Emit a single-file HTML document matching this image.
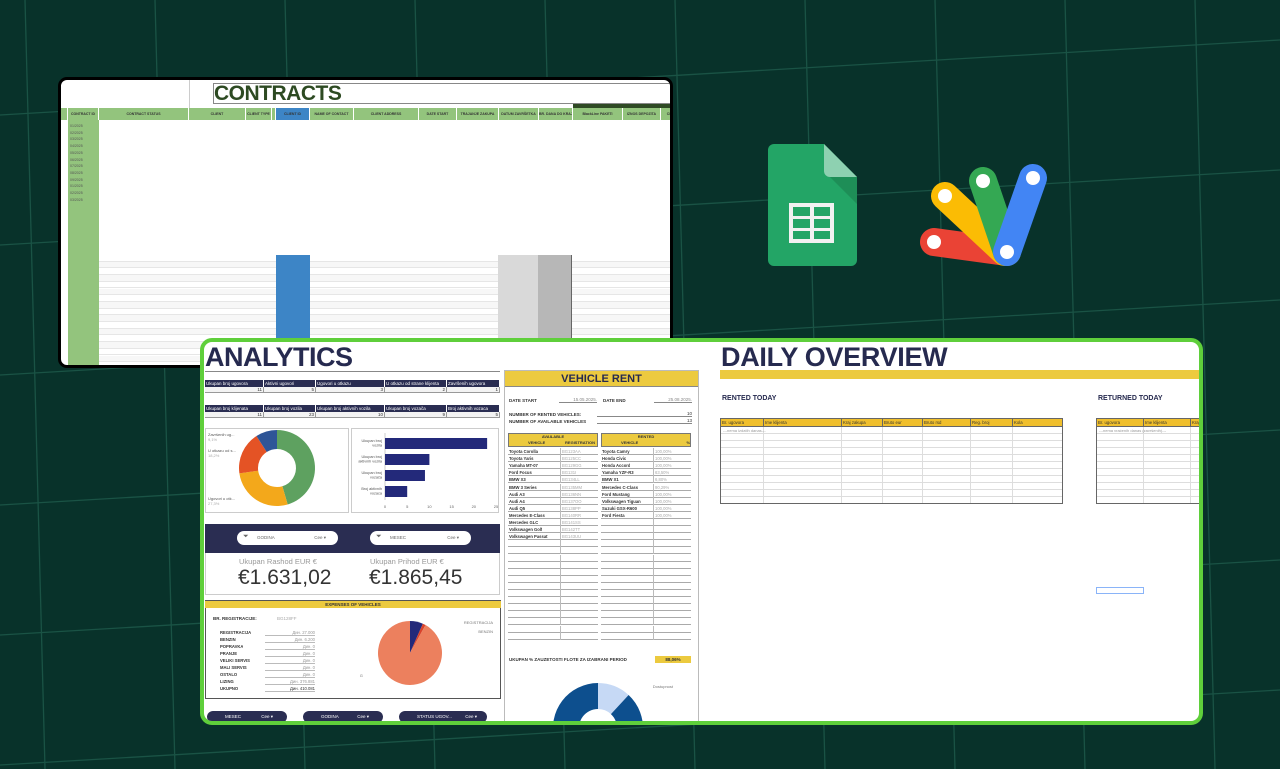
<!DOCTYPE html>
<html style="overflow:hidden"><head><meta charset="utf-8">
<style>
*{box-sizing:border-box;margin:0;padding:0}
html,body{width:1280px;height:769px;overflow:hidden}
body{background:#08322a;font-family:"Liberation Sans",sans-serif;position:relative}
.a{position:absolute}
.t{font-size:4.5px;color:#333;white-space:nowrap;overflow:hidden}
.navy{color:#262a4f}
</style></head><body>
<svg class="a" style="left:0;top:0" width="1280" height="769" id="grid"></svg>

<!-- CONTRACTS window -->
<div class="a" style="left:58px;top:77px;width:615px;height:291px;border:3px solid #000;border-radius:9px;background:#fff;overflow:hidden">
  <div class="a" style="left:128px;top:0;width:1px;height:28px;background:#ccc"></div>
  <div class="a" style="left:152px;top:3px;width:460px;height:21px;border:1px solid #888;border-right:none;font:bold 21px/20px 'Liberation Sans',sans-serif;color:#2d4a22;letter-spacing:-0.5px">CONTRACTS</div>
  <div class="a" style="left:512px;top:24px;width:100px;height:6px;background:#2f4a24"></div>
  <div class="a" id="hdr" style="left:0;top:28px;width:612px;height:12px;background:#93c47d"></div>
  <div class="a" style="left:7px;top:40px;width:31px;height:250px;background:#93c47d"></div>
  <div class="a" id="ids" style="left:9px;top:40px"></div>
  <div class="a" id="rows" style="left:38px;top:175px;width:575px;height:115px;overflow:hidden"></div>
  <div class="a" style="left:215px;top:175px;width:34px;height:115px;background:#3d85c6"></div>
  <div class="a" style="left:437px;top:175px;width:40px;height:115px;background:#d9d9d9"></div>
  <div class="a" style="left:477px;top:175px;width:34px;height:115px;background:#b7b7b7;border-right:1px solid #666"></div>
</div>

<!-- Logos -->
<svg class="a" style="left:760px;top:140px" width="100" height="130">
  <path d="M14 4 H64 L97 37 V120 a6 6 0 0 1 -6 6 H14 a6 6 0 0 1 -6 -6 V10 a6 6 0 0 1 6 -6Z" fill="#23a566"/>
  <path d="M64 4 L97 37 H70 a6 6 0 0 1 -6 -6Z" fill="#8ed1b1"/>
  <path d="M70 37 L97 64 V37Z" fill="#1e8e57"/>
  <rect x="29" y="63" width="45" height="40" fill="#f1f1f1"/>
  <g fill="#23a566"><rect x="33" y="67" width="17" height="9"/><rect x="54" y="67" width="16" height="9"/><rect x="33" y="79" width="17" height="9"/><rect x="54" y="79" width="16" height="9"/><rect x="33" y="91" width="17" height="8"/><rect x="54" y="91" width="16" height="8"/></g>
</svg>
<svg class="a" style="left:915px;top:160px" width="140" height="112">
  <g stroke-linecap="round" stroke-width="28" fill="none">
    <line x1="19" y1="82" x2="92" y2="92" stroke="#ea4335"/>
    <line x1="30" y1="36" x2="90" y2="92" stroke="#fbbc04"/>
    <line x1="68" y1="21" x2="92" y2="92" stroke="#34a853"/>
    <line x1="118" y1="18" x2="92" y2="92" stroke="#4285f4"/>
  </g>
  <g fill="#fff"><circle cx="19" cy="82" r="7"/><circle cx="30" cy="36" r="7"/><circle cx="68" cy="21" r="7"/><circle cx="118" cy="18" r="7"/><circle cx="92" cy="92" r="7"/></g>
</svg>

<!-- ANALYTICS window -->
<div class="a" style="left:200px;top:338px;width:1003px;height:387px;border:4px solid #5fcf3b;border-radius:12px;background:#fff;overflow:hidden">
 <div class="a" style="left:-204px;top:-342px;width:1280px;height:769px">
  <div class="a navy" style="left:205px;top:342px;font:bold 27px/30px 'Liberation Sans',sans-serif;letter-spacing:-0.5px">ANALYTICS</div>
  <div class="a" style="left:205px;top:371px;width:295px;height:1px;background:#888"></div>
  <div class="a" id="kpi"></div>

  <div class="a" style="left:205px;top:428px;width:144px;height:85px;border:1px solid #ccc"></div>
  <svg class="a" id="donut" style="left:205px;top:428px" width="144" height="85"></svg>
  <div class="a" style="left:351px;top:428px;width:148px;height:85px;border:1px solid #ccc"></div>
  <svg class="a" id="bars" style="left:351px;top:428px" width="148" height="85"></svg>

  <div class="a" style="left:205px;top:524px;width:295px;height:29px;background:#2a2d52"></div>
  <div class="a t" style="left:237px;top:531px;width:101px;height:14px;background:#fff;border-radius:7px;padding:4px 0 0 20px;color:#666">GODINA<span style="position:absolute;right:12px">Cee ▾</span><span style="position:absolute;left:6px;top:2px;font-size:7px">⏷</span></div>
  <div class="a t" style="left:370px;top:531px;width:101px;height:14px;background:#fff;border-radius:7px;padding:4px 0 0 20px;color:#666">MESEC<span style="position:absolute;right:12px">Cee ▾</span><span style="position:absolute;left:6px;top:2px;font-size:7px">⏷</span></div>
  <div class="a" style="left:205px;top:553px;width:295px;height:42px;border:1px solid #ccc;border-top:none"></div>
  <div class="a" style="left:239px;top:557px;font-size:7.5px;color:#999">Ukupan Rashod EUR €</div>
  <div class="a" style="left:238px;top:566px;font-size:21px;color:#333">€1.631,02</div>
  <div class="a" style="left:370px;top:557px;font-size:7.5px;color:#999">Ukupan Prihod EUR €</div>
  <div class="a" style="left:369px;top:566px;font-size:21px;color:#333">€1.865,45</div>

  <div class="a" style="left:205px;top:600px;width:296px;height:99px;border:1px solid #555"></div>
  <div class="a t" style="left:205px;top:601px;width:296px;height:7px;background:#ecca3f;text-align:center;font-weight:bold;font-size:4.5px;line-height:7px">EXPENSES OF VEHICLES</div>
  <div class="a t" style="left:213px;top:616px;font-weight:bold">BR. REGISTRACIJE:</div>
  <div class="a t" style="left:277px;top:616px;color:#aaa">BG128FF</div>
  <div class="a" id="exp"></div>
  <svg class="a" id="pie" style="left:360px;top:610px" width="140" height="88"></svg>

  <div class="a t" style="left:207px;top:711px;width:80px;height:12px;background:#2a2d52;border-radius:6px;color:#fff;padding:3px 0 0 18px">MESEC<span style="position:absolute;right:14px">Cee ▾</span></div>
  <div class="a t" style="left:303px;top:711px;width:80px;height:12px;background:#2a2d52;border-radius:6px;color:#fff;padding:3px 0 0 18px">GODINA<span style="position:absolute;right:14px">Cee ▾</span></div>
  <div class="a t" style="left:399px;top:711px;width:88px;height:12px;background:#2a2d52;border-radius:6px;color:#fff;padding:3px 0 0 18px">STATUS UGOV...<span style="position:absolute;right:10px">Cee ▾</span></div>

  <!-- Vehicle rent -->
  <div class="a" style="left:504px;top:370px;width:195px;height:360px;border:1px solid #bbb"></div>
  <div class="a navy" style="left:505px;top:371px;width:193px;height:16px;background:#ecca3f;border-bottom:1px solid #888;text-align:center;font:bold 11px/16px 'Liberation Sans',sans-serif">VEHICLE RENT</div>
  <div class="a t" style="left:509px;top:398px;font-weight:bold">DATE START</div>
  <div class="a t" style="left:559px;top:397px;width:38px;border-bottom:1px solid #888;text-align:right;color:#888">15.05.2025.</div>
  <div class="a t" style="left:603px;top:398px;font-weight:bold">DATE END</div>
  <div class="a t" style="left:654px;top:397px;width:38px;border-bottom:1px solid #888;text-align:right;color:#888">25.08.2025.</div>
  <div class="a t" style="left:509px;top:412px;font-weight:bold">NUMBER OF RENTED VEHICLES:</div>
  <div class="a t" style="left:509px;top:419px;font-weight:bold">NUMBER OF AVAILABLE VEHICLES</div>
  <div class="a t" style="left:597px;top:411px;width:95px;border-bottom:1px solid #888;text-align:right">10</div>
  <div class="a t" style="left:597px;top:418px;width:95px;border-bottom:1px solid #888;text-align:right">13</div>
  <div class="a" id="vr"></div>
  <div class="a t" style="left:509px;top:657px;font-weight:bold">UKUPAN % ZAUZETOSTI FLOTE ZA IZABRANI PERIOD</div>
  <div class="a t" style="left:655px;top:656px;width:36px;height:7px;background:#ecca3f;text-align:center;font-weight:bold;line-height:7px">88,06%</div>
  <svg class="a" id="occ" style="left:540px;top:670px" width="150" height="52"></svg>

  <!-- Daily overview -->
  <div class="a navy" style="left:721px;top:342px;font:bold 27px/30px 'Liberation Sans',sans-serif;letter-spacing:-0.3px">DAILY OVERVIEW</div>
  <div class="a" style="left:720px;top:370px;width:480px;height:9px;background:#ecca3f"></div>
  <div class="a navy" style="left:722px;top:395px;font:bold 7px 'Liberation Sans',sans-serif">RENTED TODAY</div>
  <div class="a navy" style="left:1098px;top:395px;font:bold 7px 'Liberation Sans',sans-serif">RETURNED TODAY</div>
  <div class="a" id="rt"></div>
  <div class="a" style="left:1096px;top:587px;width:48px;height:7px;border:1px solid #8ab4f8"></div>
 </div>
</div>

<script>
// ===== chart data =====
const donutLabels = ["Aktivni ugovori","Ugovori u otk...","U otkazu od s...","Završenih ug..."];
const donutValues = [45.5, 27.3, 18.2, 9.1];
const donutColors = ["#5ea160","#f3a81b","#e45325","#2e5597"];
const barLabels = [["Ukupan broj","vozila"],["Ukupan broj","aktivnih vozila"],["Ukupan broj","vozača"],["Broj aktivnih","vozaca"]];
const barValues = [23, 10, 9, 5];
const barTicks = [0,5,10,15,20,25];
const pieLabels = ["REGISTRACIJA","BENZIN","LIZING"];
const pieValues = [27000, 6200, 376881];
const pieColors = ["#23297a","#d9422a","#ec805e"];
const occValues = [11.9, 88.1];
const occColors = ["#c6d9f5","#0d4f8e"];

const NS="http://www.w3.org/2000/svg";
function mk(parent,tag,attrs){const e=document.createElementNS(NS,tag);for(const k in attrs)e.setAttribute(k,attrs[k]);parent.appendChild(e);return e;}
function div(parent,css,txt){const d=document.createElement('div');d.className='a t';d.style.cssText=css;if(txt!==undefined)d.textContent=txt;parent.appendChild(d);return d;}
function arc(cx,cy,r,r0,a0,a1){const p=(r,a)=>[cx+r*Math.sin(a),cy-r*Math.cos(a)];const l=a1-a0>Math.PI?1:0;const [x1,y1]=p(r,a0),[x2,y2]=p(r,a1);if(r0<=0)return `M${cx},${cy}L${x1},${y1}A${r},${r} 0 ${l} 1 ${x2},${y2}Z`;const [x3,y3]=p(r0,a1),[x4,y4]=p(r0,a0);return `M${x1},${y1}A${r},${r} 0 ${l} 1 ${x2},${y2}L${x3},${y3}A${r0},${r0} 0 ${l} 0 ${x4},${y4}Z`;}

// grid
const g=document.getElementById('grid');
for(let i=-1;i<11;i++){const x=25+i*130;const l=mk(g,'line',{x1:x,y1:0,x2:x+20,y2:769,stroke:'#1a5345','stroke-width':1.3});}
for(let i=0;i<8;i++){const y=115+i*130-130;const l=mk(g,'line',{x1:0,y1:y,x2:1280,y2:y-75,stroke:'#1a5345','stroke-width':1.3});}

// contracts header
const hdr=document.getElementById('hdr');
const hcols=[[0,7,""],[7,31,"CONTRACT ID"],[38,90,"CONTRACT STATUS"],[128,57,"CLIENT"],[185,26,"CLIENT TYPE"],[211,4,""],[185,30,""],[215,34,"CLIENT ID"],[249,44,"NAME OF CONTACT"],[293,65,"CLIENT ADDRESS"],[358,38,"DATE START"],[396,42,"TRAJANJE ZAKUPA"],[438,40,"DATUM ZAVRŠETKA"],[478,34,"BR. DANA DO KRAJA"],[512,50,"BlackLine PAKETI"],[562,38,"IZNOS DEPOZITA"],[600,20,"CEN"]];
hcols.forEach(c=>{const d=div(hdr,`left:${c[0]}px;top:0;width:${c[1]}px;height:12px;font-size:3.5px;font-weight:bold;text-align:center;line-height:12px;border-right:1px solid #fff;${c[2]==='CLIENT ID'?'background:#3d85c6;':''}`,c[2]);});
const ids=document.getElementById('ids');
for(let i=0;i<12;i++){const d=div(ids,`left:0;top:${4+i*6.7}px;font-size:3.5px;color:#555`,`0${(i%9)+1}/2025`);}
const rows=document.getElementById('rows');
for(let i=0;i<17;i++){const r=div(rows,`left:0;top:${i*6.7}px;width:575px;height:6.7px;border-bottom:1px solid #e6e6e6;${i%2?'background:#f7f7f7':''}`);}

// KPI tables
const kpi=document.getElementById('kpi');
const cx=[205,264,316,385,447,500];
const k1=["Ukupan broj ugovora","Aktivni ugovori","Ugovori u otkazu","U otkazu od strane klijenta","Završenih ugovora"],v1=["11","5","3","2","1"];
const k2=["Ukupan broj klijenata","Ukupan broj vozila","Ukupan broj aktivnih vozila","Ukupan broj vozača","Broj aktivnih vozaca"],v2=["11","23","10","9","5"];
[[380,k1,v1],[405,k2,v2]].forEach(([y,ks,vs])=>{ks.forEach((k,i)=>{const w=cx[i+1]-cx[i];const h=div(kpi,`left:${cx[i]}px;top:${y}px;width:${w}px;height:7px;background:#2a2d52;color:#fff;line-height:7px;padding-left:1px;border-right:1px solid #fff`,k);const v=div(kpi,`left:${cx[i]}px;top:${y+7}px;width:${w}px;height:6px;text-align:right;line-height:6px;padding-right:1px;border-right:1px solid #999;border-bottom:1px solid #999;background:#f3f3f3`,vs[i]);});});

// donut
const dn=document.getElementById('donut');
const tot=donutValues.reduce((a,b)=>a+b,0);let a=0;
donutValues.forEach((v,i)=>{const a1=a+v/tot*2*Math.PI;const p=mk(dn,'path',{d:arc(72,40,38,19,a,a1),fill:donutColors[i]});a=a1;});
donutLabels.forEach((l,i)=>{const lx=i==0?150:3;const ly=[35,72,24,8][i];const t=mk(dn,'text',{x:lx,y:ly,'font-size':4,fill:'#555'});t.textContent=l;const t2=mk(dn,'text',{x:lx,y:ly+5,'font-size':4,fill:'#aaa'});t2.textContent=donutValues[i].toFixed(1).replace('.',',')+'%';});

// bars
const bs=document.getElementById('bars');
const bx=v=>34+v/25*111, by=i=>10+i*16;
mk(bs,'line',{x1:34,y1:5,x2:34,y2:72,stroke:'#999','stroke-width':0.5});
barTicks.forEach(t=>{const e=mk(bs,'text',{x:bx(t),y:80,'font-size':4,fill:'#666','text-anchor':'middle'});e.textContent=t;});
barValues.forEach((v,i)=>{const r=mk(bs,'rect',{x:bx(0),y:by(i),width:bx(v)-bx(0),height:11,fill:'#23297a'});barLabels[i].forEach((s,j)=>{const t=mk(bs,'text',{x:31,y:by(i)+4+j*4.5,'font-size':3.8,fill:'#555','text-anchor':'end'});t.textContent=s;});});

// expenses list
const ex=document.getElementById('exp');
const exL=["REGISTRACIJA","BENZIN","POPRAVKA","PRANJE","VELIKI SERVIS","MALI SERVIS","OSTALO","LIZING","UKUPNO"],exV=["Дин. 27.000","Дин. 6.200","Дин. 0","Дин. 0","Дин. 0","Дин. 0","Дин. 0","Дин. 376.881","Дин. 410.081"];
exL.forEach((l,i)=>{const y=630+i*7;const d=div(ex,`left:220px;top:${y}px;font-weight:bold;font-size:4.2px`,l);const v=div(ex,`left:265px;top:${y}px;width:50px;text-align:right;border-bottom:1px solid #bbb;color:${i==8?'#333':'#999'};font-size:4.2px`,exV[i]);});

// pie
const pe=document.getElementById('pie');const ptot=pieValues.reduce((a,b)=>a+b,0);a=0;
pieValues.forEach((v,i)=>{const a1=a+v/ptot*2*Math.PI;const p=mk(pe,'path',{d:arc(50,43,32,0,a,a1),fill:pieColors[i]});a=a1;});
[["REGISTRACIJA",133,14],["BENZIN",133,23],["LIZING",-10,67]].forEach((l,i)=>{const t=mk(pe,'text',{x:l[1],y:l[2],'font-size':4,fill:'#777','text-anchor':i<2?'end':'start'});t.textContent=l[0];});

// vehicle rent tables
const vr=document.getElementById('vr');
const avV=["Toyota Corolla","Toyota Yaris","Yamaha MT-07","Ford Focus","BMW X3","BMW 3 Series","Audi A3","Audi A4","Audi Q5","Mercedes E-Class","Mercedes GLC","Volkswagen Golf","Volkswagen Passat"];
const avR=["BG123AA","BG125CC","BG129GG","BG131I","BG134LL","BG135MM","BG136NN","BG137OO","BG138PP","BG140RR","BG141SS","BG142TT","BG143UU"];
const rnV=["Toyota Camry","Honda Civic","Honda Accord","Yamaha YZF-R3","BMW X1","Mercedes C-Class","Ford Mustang","Volkswagen Tiguan","Suzuki GSX-R600","Ford Fiesta"];
const rnP=["100,00%","100,00%","100,00%","63,50%","6,80%","90,29%","100,00%","100,00%","100,00%","100,00%"];
[[508,"AVAILABLE","REGISTRATION",avV,avR],[601,"RENTED","%",rnV,rnP]].forEach(([x,h,c2,A,B])=>{
  const hd=div(vr,`left:${x}px;top:433px;width:90px;height:14px;background:#ecca3f;border:1px solid #777;text-align:center;font-weight:bold;font-size:4px;line-height:6px`,h);
  div(vr,`left:${x+20}px;top:440px;font-weight:bold;font-size:4px`,"VEHICLE");div(vr,`left:${x+55}px;top:440px;width:34px;text-align:${c2=='%'?'right':'center'};font-weight:bold;font-size:4px`,c2);
  for(let i=0;i<27;i++){const y=448+i*7.1;const r=div(vr,`left:${x}px;top:${y}px;width:90px;height:7.1px;border-bottom:1px solid #aaa`);
    div(vr,`left:${x+52}px;top:${y}px;width:1px;height:7.1px;background:#bbb`);
    if(A[i]){div(vr,`left:${x+1}px;top:${y+1}px;font-weight:bold;font-size:4.2px`,A[i]);div(vr,`left:${x+54}px;top:${y+1}px;color:#aaa;font-size:4.2px`,B[i]);}}
});

// occupancy donut
const oc=document.getElementById('occ');const otot=occValues.reduce((a,b)=>a+b,0);a=0;
occValues.forEach((v,i)=>{const a1=a+v/otot*2*Math.PI;const p=mk(oc,'path',{d:arc(58,58,45,19,a,a1),fill:occColors[i]});a=a1;});
const ot=mk(oc,'text',{x:133,y:18,'font-size':4,fill:'#777','text-anchor':'end'});ot.textContent="Dostupnost";

// daily overview tables
const rt=document.getElementById('rt');
function tbl(x,w,cols,note){const b=div(rt,`left:${x}px;top:418px;width:${w}px;height:86px;border:1px solid #666;overflow:hidden`);
  const hd=div(b,`left:0;top:0;width:${w}px;height:8px;background:#f0bf2c;border-bottom:1px solid #666`);let cx0=0;
  cols.forEach(c=>{div(hd,`left:${cx0}px;top:0;width:${c[1]}px;height:8px;border-right:1px solid #666;padding-left:1px;font-size:4.3px;line-height:8px`,c[0]);for(let i=0;i<11;i++)div(b,`left:${cx0}px;top:${8+i*7}px;width:${c[1]}px;height:7px;border-right:1px solid #ddd;border-bottom:1px solid #ddd`);cx0+=c[1];});
  div(b,`left:2px;top:9px;color:#999;font-size:4px`,note);}
tbl(720,343,[["Br. ugovora",43],["Ime klijenta",78],["Kraj zakupa",41],["Bruto eur",40],["Bruto rsd",48],["Reg. broj",42],["Kola",51]],"---nema izdatih danas---");
tbl(1096,110,[["Br. ugovora",47],["Ime klijenta",47],["Kraj",20]],"---nema vraćenih danas (završenih)---");
</script>
</body></html>
